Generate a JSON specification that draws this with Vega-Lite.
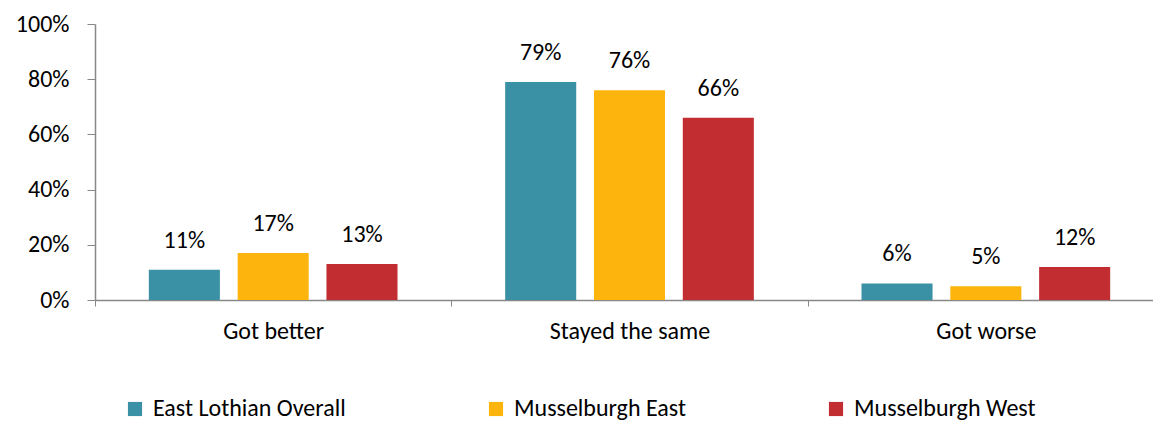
{
  "$schema": "https://vega.github.io/schema/vega-lite/v6.json",
  "width": 1069,
  "height": 276,
  "autosize": {"type": "none"},
  "padding": {"left": 95, "top": 24, "right": 0, "bottom": 121},
  "background": "white",
  "config": {
    "view": {"stroke": null},
    "font": "Carlito, Lato, sans-serif",
    "text": {"font": "Carlito, Lato, sans-serif"}
  },
  "data": {
    "values": [
      {"category": "Got better", "area": "East Lothian Overall", "value": 0.11},
      {"category": "Got better", "area": "Musselburgh East", "value": 0.17},
      {"category": "Got better", "area": "Musselburgh West", "value": 0.13},
      {"category": "Stayed the same", "area": "East Lothian Overall", "value": 0.79},
      {"category": "Stayed the same", "area": "Musselburgh East", "value": 0.76},
      {"category": "Stayed the same", "area": "Musselburgh West", "value": 0.66},
      {"category": "Got worse", "area": "East Lothian Overall", "value": 0.06},
      {"category": "Got worse", "area": "Musselburgh East", "value": 0.05},
      {"category": "Got worse", "area": "Musselburgh West", "value": 0.12}
    ]
  },
  "encoding": {
    "x": {
      "field": "category", "type": "nominal",
      "sort": ["Got better", "Stayed the same", "Got worse"],
      "scale": {"paddingInner": 0, "paddingOuter": 0},
      "axis": {
        "title": null, "labelAngle": 0, "labelFontSize": 24, "labelColor": "#000000",
        "labelPadding": 13, "tickBand": "extent", "tickSize": 6,
        "tickColor": "#888888", "domainColor": "#888888", "domainWidth": 1.5,
        "labelFont": "Carlito, Lato, sans-serif"
      }
    },
    "xOffset": {
      "field": "area", "type": "nominal",
      "scale": {"paddingInner": 0.2, "paddingOuter": 0.606}
    },
    "y": {
      "field": "value", "type": "quantitative",
      "scale": {"domain": [0, 1]},
      "axis": {
        "title": null, "format": ".0%", "values": [0, 0.2, 0.4, 0.6, 0.8, 1],
        "grid": false, "labelFontSize": 24, "labelColor": "#000000",
        "tickSize": 8, "labelPadding": 18, "tickColor": "#888888",
        "domainColor": "#888888", "domainWidth": 1.5,
        "labelFont": "Carlito, Lato, sans-serif"
      }
    }
  },
  "layer": [
    {
      "mark": {"type": "bar"},
      "encoding": {
        "color": {
          "field": "area", "type": "nominal",
          "scale": {
            "domain": ["East Lothian Overall", "Musselburgh East", "Musselburgh West"],
            "range": ["#3A91A6", "#FDB50E", "#C22D31"]
          },
          "legend": {
            "title": null, "orient": "none", "direction": "horizontal",
            "legendX": 28, "legendY": 373, "columnPadding": 138,
            "symbolType": "square", "symbolSize": 200, "symbolStrokeWidth": 0,
            "labelFontSize": 24, "labelColor": "#000000", "labelOffset": 6,
            "labelLimit": 500,
            "labelFont": "Carlito, Lato, sans-serif"
          }
        }
      }
    },
    {
      "mark": {"type": "text", "baseline": "alphabetic", "dy": -22, "fontSize": 24, "color": "#000000"},
      "encoding": {
        "text": {"field": "value", "type": "quantitative", "format": ".0%"}
      }
    }
  ]
}
